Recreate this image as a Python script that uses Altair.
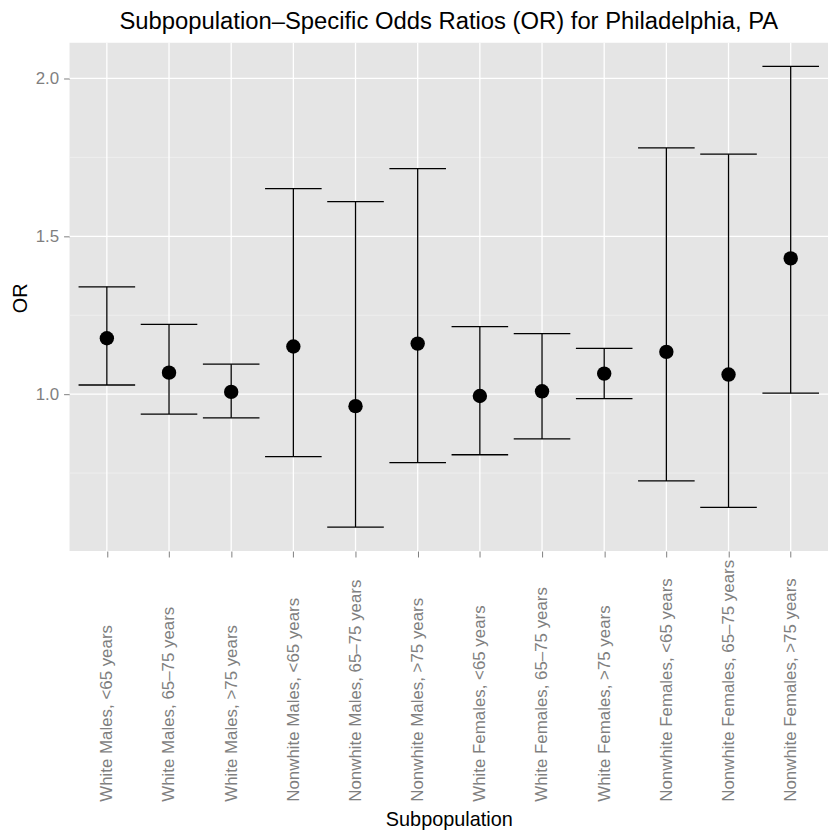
import altair as alt
import pandas as pd

categories = [
    "White Males, <65 years",
    "White Males, 65\u201375 years",
    "White Males, >75 years",
    "Nonwhite Males, <65 years",
    "Nonwhite Males, 65\u201375 years",
    "Nonwhite Males, >75 years",
    "White Females, <65 years",
    "White Females, 65\u201375 years",
    "White Females, >75 years",
    "Nonwhite Females, <65 years",
    "Nonwhite Females, 65\u201375 years",
    "Nonwhite Females, >75 years",
]
odds_ratio = [1.177, 1.068, 1.007, 1.151, 0.962, 1.160, 0.994, 1.009, 1.065, 1.134, 1.062, 1.430]
lower_ci = [1.029, 0.937, 0.925, 0.802, 0.579, 0.783, 0.808, 0.858, 0.986, 0.725, 0.641, 1.003]
upper_ci = [1.340, 1.221, 1.095, 1.651, 1.610, 1.714, 1.214, 1.192, 1.145, 1.780, 1.760, 2.038]
major_y = [1.0, 1.5, 2.0]
minor_y = [0.75, 1.25, 1.75]

FONT = "Liberation Sans"
GREY = "#7f7f7f"

df = pd.DataFrame({"Subpopulation": categories, "OR": odds_ratio,
                   "lower": lower_ci, "upper": upper_ci})
df_major = pd.DataFrame({"v": major_y})
df_minor = pd.DataFrame({"v": minor_y})

xscale = alt.Scale(type="point", padding=0.6, domain=categories)
yscale = alt.Scale(domain=[0.503, 2.113], nice=False, zero=False)

xaxis = alt.Axis(
    title="Subpopulation", labelAngle=-90, labelAlign="left", labelBaseline="middle",
    labelPadding=246, labelFontSize=17, labelColor=GREY, labelFont=FONT,
    labelLimit=400, labelOverlap=False,
    tickColor=GREY, tickSize=6, tickWidth=1, domain=False, grid=False,
    titleFontSize=20, titleFont=FONT, titleColor="black", titleFontWeight="normal",
    titleY=276, titleBaseline="alphabetic",
)
yaxis = alt.Axis(
    title="OR", values=major_y, format=".1f", labelFontSize=17, labelColor=GREY,
    labelFont=FONT, tickColor=GREY, tickSize=6, tickWidth=1, labelPadding=5,
    domain=False, grid=False, titleFontSize=20, titleFont=FONT, titleColor="black",
    titleFontWeight="normal", titleX=-49, titleY=257, titleBaseline="middle",
    titleAlign="center", titleAngle=-90,
)

X = alt.X("Subpopulation:N", scale=xscale, sort=categories, axis=xaxis)

minor = alt.Chart(df_minor).mark_rule(color="#F2F2F2", strokeWidth=0.7).encode(
    y=alt.Y("v:Q", scale=yscale, axis=yaxis))
major = alt.Chart(df_major).mark_rule(color="white", strokeWidth=1.3).encode(
    y=alt.Y("v:Q", scale=yscale, axis=yaxis))
vgrid = alt.Chart(df).mark_rule(color="white", strokeWidth=1.3).encode(x=X)

bars = alt.Chart(df).mark_rule(color="black", strokeWidth=1.3).encode(
    x=X, y=alt.Y("lower:Q", scale=yscale, axis=yaxis), y2="upper:Q")
cap_lo = alt.Chart(df).mark_tick(color="black", size=57, thickness=1.3, opacity=1).encode(
    x=X, y=alt.Y("lower:Q", scale=yscale, axis=yaxis))
cap_hi = alt.Chart(df).mark_tick(color="black", size=57, thickness=1.3, opacity=1).encode(
    x=X, y=alt.Y("upper:Q", scale=yscale, axis=yaxis))
pts = alt.Chart(df).mark_circle(color="black", size=210, opacity=1).encode(
    x=X, y=alt.Y("OR:Q", scale=yscale, axis=yaxis))

chart = alt.layer(minor, major, vgrid, bars, cap_lo, cap_hi, pts).properties(
    width=764, height=512,
    background="white",
    autosize=alt.AutoSizeParams(type="none"),
    padding={"left": 62, "top": 32, "right": 0, "bottom": 280},
    title=alt.TitleParams(
        text="Subpopulation\u2013Specific Odds Ratios (OR) for Philadelphia, PA",
        fontSize=24, font=FONT, fontWeight="normal", color="black",
        anchor="middle", frame="group", baseline="alphabetic", offset=12, dy=23),
).configure_view(fill="#E5E5E5", strokeWidth=0)

chart.save("out.html", embed_options={"renderer": "svg", "actions": False})
